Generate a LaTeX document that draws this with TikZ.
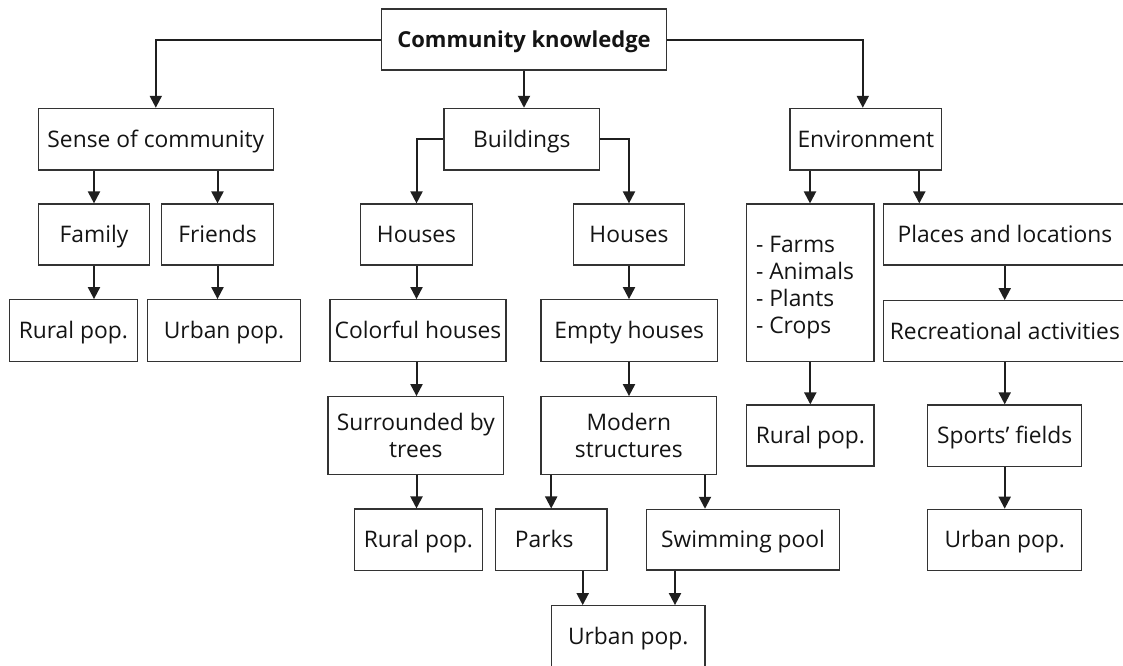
\documentclass[tikz,border=0pt]{standalone}
\usepackage{fontspec}
\setmainfont{Open Sans}
\usetikzlibrary{arrows.meta,calc}
\begin{document}
\begin{tikzpicture}[x=1pt,y=-1pt,
  box/.style={draw=black!80, line width=1.2pt, inner sep=0pt, text=black!92,
    font=\fontsize{22.8}{27}\selectfont, align=center},
  one/.style={text height=16.3pt, text depth=0pt},
  conn/.style={line width=2pt, black!88, -{Triangle[width=12pt,length=12pt]}}]
\clip (0,0) rectangle (1123,665);
\fill[white] (0,0) rectangle (1123,665);
% level 0
\node[box, one, minimum width=284.6pt, minimum height=61pt, font=\fontsize{22}{27}\selectfont\bfseries, text height=15.8pt] (ck) at (524,39.5) {Community knowledge};
% level 1
\node[box, one, minimum width=235pt, minimum height=61.7pt] (soc) at (155.8,139.2) {Sense of community};
\node[box, one, minimum width=155.3pt, minimum height=61.7pt] (bld) at (521.7,139.2) {Buildings};
\node[box, one, minimum width=151.7pt, minimum height=61.7pt] (env) at (865.8,139.2) {Environment};
% level 2
\node[box, one, minimum width=111.4pt, minimum height=61pt] (fam) at (94,234.5) {Family};
\node[box, one, minimum width=111.6pt, minimum height=61pt] (fri) at (217.5,234.5) {Friends};
\node[box, one, minimum width=111.6pt, minimum height=61pt] (hou1) at (416.5,234.5) {Houses};
\node[box, one, minimum width=111.4pt, minimum height=61pt] (hou2) at (629,234.5) {Houses};
\node[box, minimum width=127.3pt, minimum height=157.3pt] (frm) at (810.3,282.7) {};
\node[box, draw=none, align=left] (frmtxt) at (805,288) {- Farms\\- Animals\\- Plants\\- Crops};
\node[box, one, minimum width=242.3pt, minimum height=61pt] (plc) at (1004.9,234.5) {Places and locations};
% level 3
\node[box, one, minimum width=128pt, minimum height=61.6pt] (rur1) at (73.3,330.5) {Rural pop.};
\node[box, one, minimum width=153.4pt, minimum height=61.6pt] (urb1) at (224,330.5) {Urban pop.};
\node[box, one, minimum width=176pt, minimum height=61.6pt] (col) at (418,330.5) {Colorful houses};
\node[box, one, minimum width=176.3pt, minimum height=61.6pt] (emp) at (629.2,330.5) {Empty houses};
\node[box, one, minimum width=242.3pt, minimum height=60.6pt] (rec) at (1004.9,331) {Recreational activities};
% level 4
\node[box, minimum width=175.7pt, minimum height=77.6pt] (sur) at (415.8,435.5) {Surrounded by\\trees};
\node[box, minimum width=175.7pt, minimum height=77.6pt] (mod) at (628.8,435.5) {Modern\\structures};
\node[box, one, minimum width=127.3pt, minimum height=61pt] (rur3) at (810.3,435.5) {Rural pop.};
\node[box, one, minimum width=154pt, minimum height=61.7pt] (spt) at (1004.7,435.8) {Sports’ fields};
% level 5
\node[box, one, minimum width=128pt, minimum height=61.3pt] (rur2) at (418.3,539.7) {Rural pop.};
\node[box, one, minimum width=111.7pt, minimum height=61.3pt] (prk) at (551.2,539.7) {Parks\hspace*{14pt}};
\node[box, one, minimum width=192.6pt, minimum height=60.7pt] (swm) at (743,539.7) {Swimming pool};
\node[box, one, minimum width=154pt, minimum height=61pt] (urb3) at (1004.7,539.8) {Urban pop.};
% level 6
\node[box, one, minimum width=153.7pt, minimum height=61pt] (urb2) at (628.2,636.2) {Urban pop.};

% connectors
\draw[conn] (ck.west) -| (soc.north);
\draw[conn] (ck.south) -- (ck.south |- bld.north);
\draw[conn] (ck.east) -| ([xshift=-3pt]env.north);

\draw[conn] (fam.north |- soc.south) -- (fam.north);
\draw[conn] (fri.north |- soc.south) -- (fri.north);
\draw[conn] (fam.south) -- (fam.south |- rur1.north);
\draw[conn] (fri.south) -- (fri.south |- urb1.north);

\draw[conn] (bld.west) -| (hou1.north);
\draw[conn] (bld.east) -| (hou2.north);
\draw[conn] (hou1.south) -- (hou1.south |- col.north);
\draw[conn] (hou2.south) -- (hou2.south |- emp.north);
\draw[conn] (hou1.south |- col.south) -- (hou1.south |- sur.north);
\draw[conn] (hou2.south |- emp.south) -- (hou2.south |- mod.north);
\draw[conn] (hou1.south |- sur.south) -- (hou1.south |- rur2.north);
\draw[conn] (prk.north |- mod.south) -- (prk.north);
\draw[conn] ([xshift=76.2pt]mod.south) -- ([xshift=76.2pt]mod.south |- swm.north);
\draw[conn] ([xshift=31.5pt]prk.south) -- ([xshift=31.5pt]prk.south |- urb2.north);
\draw[conn] ([xshift=-68pt]swm.south) -- ([xshift=-68pt]swm.south |- urb2.north);

\draw[conn] ([xshift=-55.8pt]env.south) -- ([xshift=-55.8pt]env.south |- frm.north);
\draw[conn] ([xshift=53.5pt]env.south) -- ([xshift=53.5pt]env.south |- plc.north);
\draw[conn] (frm.south) -- (frm.south |- rur3.north);
\draw[conn] (spt.north |- plc.south) -- (spt.north |- rec.north);
\draw[conn] (spt.north |- rec.south) -- (spt.north);
\draw[conn] (spt.south) -- (urb3.north);
\end{tikzpicture}
\end{document}
